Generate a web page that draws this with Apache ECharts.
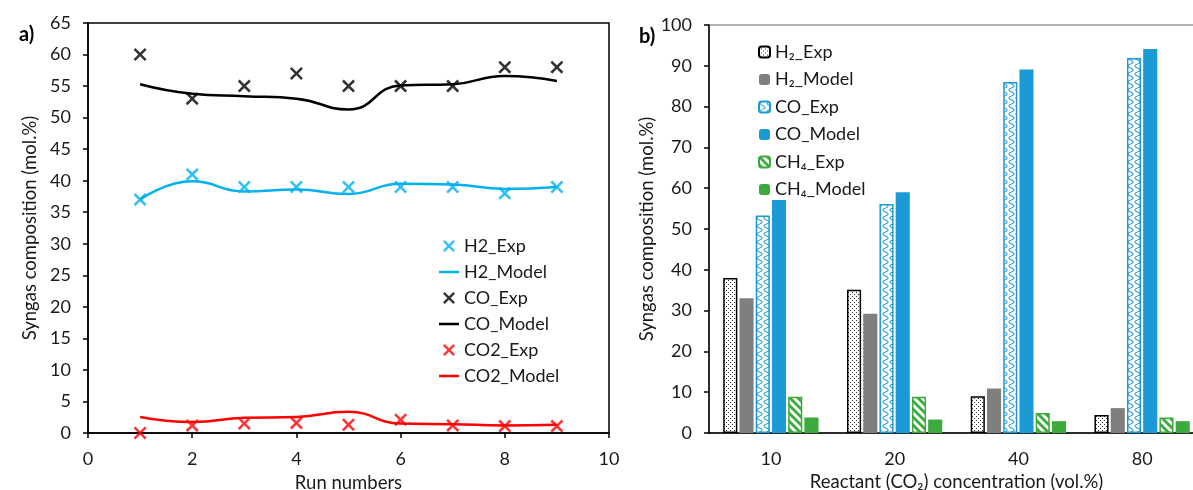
<!DOCTYPE html>
<html><head><meta charset="utf-8">
<script src="https://cdn.jsdelivr.net/npm/echarts@6/dist/echarts.min.js"></script>
<style>html,body{margin:0;padding:0;background:#fff}#c{width:1193px;height:490px}</style>
</head><body><div id="c"></div>
<script>
// ---------- data: chart a ----------
const runNumbers = [1, 2, 3, 4, 5, 6, 7, 8, 9];
const h2Exp   = [37, 41, 39, 39, 39, 39, 39, 38, 39];
const h2Model = [37.0, 39.9, 38.3, 38.6, 37.9, 39.5, 39.4, 38.7, 39.0];
const coExp   = [60, 53, 55, 57, 55, 55, 55, 58, 58];
const coModel = [55.3, 53.8, 53.4, 53.0, 51.3, 55.1, 55.3, 56.6, 55.8];
const co2Exp  = [0, 1.2, 1.5, 1.6, 1.3, 2.1, 1.2, 1.1, 1.1];
const co2Model= [2.55, 1.75, 2.4, 2.55, 3.35, 1.5, 1.4, 1.2, 1.3];

// ---------- data: chart b ----------
const concentrations = ['10', '20', '40', '80'];
const h2ExpB   = [38, 35.1, 9, 4.4];
const h2ModelB = [33, 29.2, 10.9, 6.1];
const coExpB   = [53.3, 56.1, 86, 91.9];
const coModelB = [57.1, 59, 89.1, 94.1];
const ch4ExpB  = [8.9, 8.9, 4.9, 3.8];
const ch4ModelB= [3.8, 3.3, 2.9, 2.9];

const FONT = 'Lato, "Noto Sans", sans-serif';
const TXT = '#1a1a1a';
const CYAN = '#00B0F0', RED = '#FF0000', BLACK = '#000000';
const BLUE = '#1B9AD6', GREEN = '#3CAA3C', GREY = '#7F7F7F';

function pat(w, h, draw) {
  const c = document.createElement('canvas');
  c.width = w; c.height = h;
  const g = c.getContext('2d');
  g.fillStyle = '#fff'; g.fillRect(0, 0, w, h);
  draw(g);
  return { image: c, repeat: 'repeat' };
}
const dotPat = pat(4, 4, g => { g.fillStyle = '#333'; g.fillRect(0, 0, 1, 1); g.fillRect(2, 2, 1, 1); });
const wavePat = pat(7, 8, g => {
  g.strokeStyle = BLUE; g.lineWidth = 1.1;
  g.beginPath();
  g.moveTo(3.5, 0);
  g.bezierCurveTo(0, 1.5, 0, 2.5, 3.5, 4);
  g.bezierCurveTo(7, 5.5, 7, 6.5, 3.5, 8);
  g.stroke();
});
const stripePat = pat(8, 8, g => {
  g.strokeStyle = GREEN; g.lineWidth = 2.8;
  for (const k of [-8, 0, 8]) { g.beginPath(); g.moveTo(k - 1, -1); g.lineTo(k + 9, 9); g.stroke(); }
});

const XPATH = 'path://M0,1.4 L1.4,0 L5,3.6 L8.6,0 L10,1.4 L6.4,5 L10,8.6 L8.6,10 L5,6.4 L1.4,10 L0,8.6 L3.6,5 Z';
const LINEICON = 'path://M0,0 L20,0 L20,2.5 L0,2.5 Z';
const zip = (xs, ys) => xs.map((x, i) => [x, ys[i]]);

function scatter(name, ys, color) {
  return { name, type: 'scatter', xAxisIndex: 0, yAxisIndex: 0, data: zip(runNumbers, ys),
    symbol: XPATH, symbolSize: 13, itemStyle: { color }, z: 3 };
}
function line(name, ys, color) {
  return { name, type: 'line', xAxisIndex: 0, yAxisIndex: 0, data: zip(runNumbers, ys),
    smooth: 0.5, symbol: 'none', showSymbol: false, lineStyle: { color, width: 2.5 }, itemStyle: { color } };
}
function bar(name, ys, color, border) {
  const s = { name, type: 'bar', xAxisIndex: 1, yAxisIndex: 1, data: ys,
    barGap: '15%', barCategoryGap: '23%', itemStyle: { color } };
  if (border) { s.itemStyle.borderColor = border; s.itemStyle.borderWidth = 1.5; }
  return s;
}

const axisLabel = { color: TXT, fontSize: 18, fontFamily: FONT, margin: 17 };
const axisName = { color: TXT, fontSize: 18.5, fontFamily: FONT };

const option = {
  animation: false,
  backgroundColor: '#fff',
  textStyle: { fontFamily: FONT },
  title: [
    { text: 'a)', left: 14, top: 20, textStyle: { fontSize: 20, fontWeight: 'bold', color: '#000', fontFamily: FONT } },
    { text: 'b)', left: 634, top: 22, textStyle: { fontSize: 20, fontWeight: 'bold', color: '#000', fontFamily: FONT } }
  ],
  grid: [
    { left: 88, top: 23, width: 521, height: 410, show: true, borderColor: '#000', borderWidth: 1.5,
      containLabel: false, outerBoundsMode: 'none' },
    { left: 709, top: 25, width: 495, height: 408, show: true, borderColor: '#9a9a9a', borderWidth: 1.5,
      containLabel: false, outerBoundsMode: 'none' }
  ],
  xAxis: [
    { type: 'value', gridIndex: 0, min: 0, max: 10, interval: 2,
      axisLine: { lineStyle: { color: '#000', width: 1.5 } },
      axisTick: { show: true, length: 5, lineStyle: { color: '#000', width: 1.5 } },
      splitLine: { show: false }, axisLabel,
      name: 'Run numbers', nameLocation: 'middle', nameGap: 41, nameTextStyle: axisName },
    { type: 'category', gridIndex: 1, data: concentrations,
      axisLine: { lineStyle: { color: '#000', width: 1.5 } },
      axisTick: { show: false }, splitLine: { show: false }, axisLabel,
      name: 'Reactant (CO\u2082) concentration (vol.%)', nameLocation: 'middle', nameGap: 36,
      nameTextStyle: axisName }
  ],
  yAxis: [
    { type: 'value', gridIndex: 0, min: 0, max: 65, interval: 5,
      axisLine: { show: true, lineStyle: { color: '#000', width: 1.5 } },
      axisTick: { show: true, length: 5, lineStyle: { color: '#000', width: 1.5 } },
      splitLine: { show: false }, axisLabel,
      name: 'Syngas composition (mol.%)', nameLocation: 'middle', nameGap: 48, nameTextStyle: axisName },
    { type: 'value', gridIndex: 1, min: 0, max: 100, interval: 10,
      axisLine: { show: true, lineStyle: { color: '#000', width: 1.5 } },
      axisTick: { show: true, length: 5, lineStyle: { color: '#000', width: 1.5 } },
      splitLine: { show: false }, axisLabel,
      name: 'Syngas composition (mol.%)', nameLocation: 'middle', nameGap: 46, nameTextStyle: axisName }
  ],
  legend: [
    { orient: 'vertical', left: 434, top: 232, itemWidth: 20, itemHeight: 12, itemGap: 8,
      textStyle: { color: TXT, fontSize: 18, fontFamily: FONT },
      data: [
        { name: 'H2_Exp' }, { name: 'H2_Model', icon: LINEICON },
        { name: 'CO_Exp' }, { name: 'CO_Model', icon: LINEICON },
        { name: 'CO2_Exp' }, { name: 'CO2_Model', icon: LINEICON }
      ] },
    { orient: 'vertical', left: 753, top: 38, itemWidth: 11, itemHeight: 11, itemGap: 9.5, itemStyle: {},
      textStyle: { color: TXT, fontSize: 18, fontFamily: FONT },
      data: ['H\u2082_Exp', 'H\u2082_Model', 'CO_Exp ', 'CO_Model ', 'CH\u2084_Exp', 'CH\u2084_Model'] }
  ],
  series: [
    scatter('H2_Exp', h2Exp, CYAN),
    line('H2_Model', h2Model, CYAN),
    scatter('CO_Exp', coExp, BLACK),
    line('CO_Model', coModel, BLACK),
    scatter('CO2_Exp', co2Exp, RED),
    line('CO2_Model', co2Model, RED),
    bar('H\u2082_Exp', h2ExpB, dotPat, '#000'),
    bar('H\u2082_Model', h2ModelB, GREY),
    bar('CO_Exp ', coExpB, wavePat, BLUE),
    bar('CO_Model ', coModelB, BLUE),
    bar('CH\u2084_Exp', ch4ExpB, stripePat, GREEN),
    bar('CH\u2084_Model', ch4ModelB, GREEN)
  ]
};
const chart = echarts.init(document.getElementById('c'), null, { renderer: 'canvas' });
chart.setOption(option);
</script>
</body></html>
